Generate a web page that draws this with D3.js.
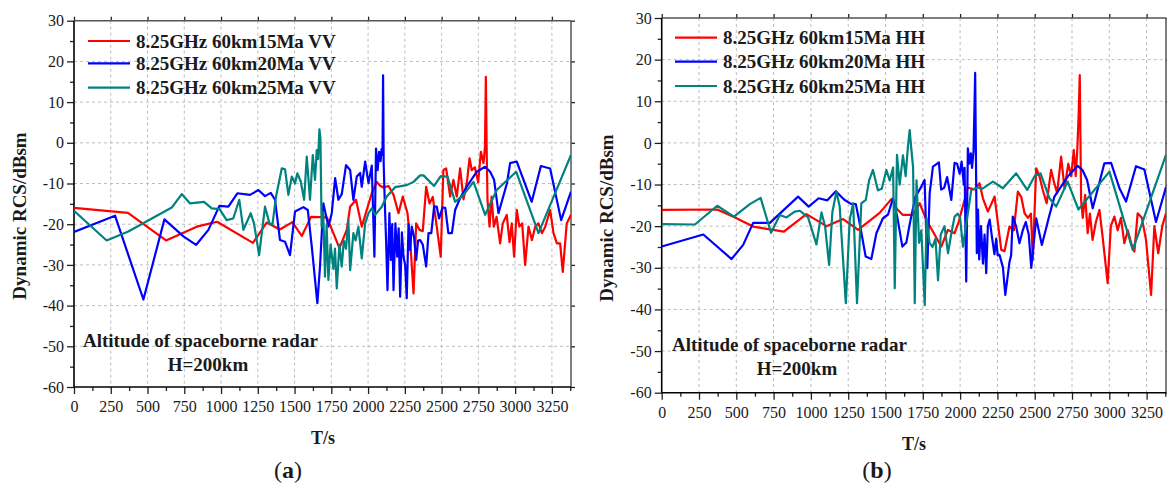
<!DOCTYPE html>
<html>
<head>
<meta charset="utf-8">
<script src="https://cdn.jsdelivr.net/npm/d3@7/dist/d3.min.js"></script>
<style>
body { margin: 0; background: #fff; }
svg text { font-family: "Liberation Serif", "Times New Roman", serif; fill: #1a1a1a; }
</style>
</head>
<body>
<svg id="chart" width="1167" height="489"></svg>
<script>
// ---- data: [T (s), RCS (dBsm)] ----
const vv15 = [[0,-16],[367,-17.2],[626,-24],[835,-20.6],[973,-19.4],[1217,-24.6],[1310,-19.6],[1400,-21.3],[1485,-19.5],[1549,-22.9],[1612,-18.2],[1719,-18.3],[1764,-22.2],[1805,-25.9],[1855,-21.4],[1878,-15.7],[1918,-14],[1957,-20.6],[2025,-12.4],[2059,-9.6],[2080,-10.5],[2104,-11],[2139,-10.6],[2173,-12.8],[2207,-17.3],[2236,-13.2],[2268,-17.3],[2286,-23.9],[2309,-37],[2327,-19.8],[2350,-21.4],[2372,-21.7],[2395,-10.8],[2418,-14.9],[2440,-13.3],[2467,-20.6],[2494,-28],[2512,-6.7],[2531,-6.3],[2558,-13.2],[2580,-9.1],[2603,-13.2],[2626,-6.3],[2649,-13.9],[2672,-9.7],[2690,-3.8],[2705,-6.7],[2726,-6],[2749,-9.7],[2767,-2.2],[2785,-5],[2795,-1],[2801,16.2],[2807,-3],[2812,-14],[2826,-20.6],[2840,-13.2],[2855,-20.6],[2874,-18.2],[2898,-24.7],[2916,-19.8],[2943,-17.7],[2962,-24.4],[2977,-19.8],[2993,-28],[3011,-16.5],[3029,-20.6],[3048,-19.8],[3068,-30],[3091,-20.6],[3114,-23.9],[3137,-20.6],[3159,-19.8],[3182,-22.2],[3205,-20.6],[3238,-16.5],[3261,-22.2],[3284,-24.7],[3306,-24.7],[3324,-31.7],[3351,-19.8],[3380,-17.7]];
const vv20 = [[0,-21.9],[279,-17.9],[472,-38.5],[615,-18.8],[744,-23],[830,-25.1],[914,-21.4],[989,-15.5],[1050,-15.7],[1111,-12.4],[1197,-12.8],[1254,-11.6],[1299,-13.1],[1338,-12.3],[1367,-14],[1401,-23.9],[1435,-24.3],[1469,-27.6],[1503,-16.9],[1560,-15.8],[1590,-16.5],[1617,-25.5],[1655,-39.4],[1673,-30.4],[1696,-14.9],[1730,-20.6],[1753,-17.3],[1776,-8.7],[1798,-14],[1821,-12.6],[1850,-5.5],[1878,-6.7],[1900,-14],[1923,-8.3],[1946,-7.4],[1957,-10.8],[1980,-4.6],[2003,-9.9],[2025,-5.6],[2043,-28],[2054,-1.4],[2065,-6.7],[2075,-2.2],[2085,-4.5],[2092,-1.5],[2098,-3],[2102,16.6],[2106,-5],[2113,-14],[2123,-24.7],[2132,-36.2],[2145,-17.3],[2155,-28.8],[2164,-20],[2173,-36.2],[2186,-19.8],[2198,-28],[2208,-21],[2218,-37.8],[2230,-22],[2241,-28],[2252,-30],[2263,-38.2],[2275,-20],[2286,-26.3],[2297,-20.6],[2312,-23],[2327,-28.8],[2340,-24],[2354,-23.9],[2372,-25],[2395,-30.4],[2411,-22.2],[2430,-22.2],[2449,-15.7],[2467,-15.7],[2483,-18.6],[2506,-15.9],[2525,-16],[2546,-22.2],[2570,-22.2],[2592,-16.5],[2626,-13.6],[2671,-10.8],[2739,-7.1],[2796,-5.9],[2830,-7.1],[2857,-9.1],[2887,-17.3],[2944,-10],[2966,-5],[3011,-4.6],[3113,-14.5],[3175,-5.7],[3238,-6.3],[3313,-19],[3380,-12]];
const vv25 = [[0,-16.7],[222,-24],[369,-21.8],[665,-15.9],[733,-12.6],[789,-14.9],[884,-14.5],[937,-16.1],[990,-16.3],[1038,-19],[1083,-18.6],[1124,-14],[1152,-21.4],[1202,-17.3],[1224,-19.8],[1259,-27.6],[1299,-15.7],[1329,-19.8],[1350,-20],[1374,-13.2],[1413,-6.3],[1435,-6.5],[1458,-12.8],[1481,-8.3],[1503,-10],[1519,-7.5],[1542,-9.5],[1565,-14],[1583,-3.4],[1605,-14],[1624,-3],[1639,-9.1],[1651,-1.8],[1660,-4],[1669,3.3],[1676,1],[1684,-20.6],[1695,-17],[1707,-32.9],[1718,-20],[1730,-33.7],[1745,-25],[1764,-31],[1775,-26],[1787,-35.8],[1805,-25],[1821,-30.4],[1835,-24],[1850,-26],[1866,-19],[1878,-31.3],[1900,-22.2],[1915,-24],[1934,-20.6],[1957,-28.4],[1980,-19.8],[2003,-17.3],[2025,-16.1],[2048,-17.7],[2093,-15.7],[2127,-13.2],[2184,-10.9],[2263,-10.4],[2309,-9.6],[2354,-8],[2377,-8],[2449,-10.6],[2494,-8.2],[2540,-8.3],[2592,-14.5],[2649,-12.8],[2717,-9.6],[2796,-17.7],[2875,-11.6],[3007,-7.1],[3159,-22.2],[3380,-3]];

const hh15 = [[0,-16.1],[372,-16],[491,-17.9],[613,-20.1],[819,-21.3],[970,-17.1],[1104,-20],[1216,-18.3],[1316,-20.9],[1461,-16.8],[1539,-13.5],[1580,-16],[1617,-17.3],[1684,-17.3],[1729,-14.5],[1774,-18.5],[1874,-24.9],[1918,-20.9],[1963,-21.7],[1990,-19],[2052,-10.7],[2097,-11.2],[2130,-9.7],[2153,-13.3],[2186,-16.5],[2231,-12.9],[2276,-25.7],[2298,-26],[2331,-20.1],[2360,-21],[2387,-11.7],[2410,-13],[2432,-16.9],[2455,-18],[2475,-17],[2487,-28.1],[2510,-6.1],[2532,-8],[2554,-11.3],[2580,-14.5],[2610,-6.5],[2630,-9.5],[2650,-12],[2677,-3.3],[2700,-11],[2725,-5],[2745,-8],[2762,-1.7],[2775,-8],[2785,-2],[2794,6.3],[2802,16.3],[2811,-13.7],[2822,-18],[2838,-12.5],[2855,-21.7],[2870,-17],[2888,-23.3],[2910,-19],[2934,-16.1],[2955,-22.5],[2989,-33.7],[3010,-20],[3034,-17.7],[3056,-21],[3078,-18],[3101,-24.1],[3124,-21],[3146,-24],[3168,-26.1],[3190,-16.9],[3218,-18],[3246,-23.3],[3280,-36.5],[3302,-20],[3328,-26.5],[3355,-20],[3380,-16.9]];
const hh20 = [[0,-24.9],[279,-22],[468,-27.9],[546,-24.5],[613,-19.2],[725,-19.2],[914,-12.9],[985,-15.3],[1052,-13.3],[1110,-13.8],[1167,-11.6],[1222,-13.6],[1265,-14.6],[1301,-14.7],[1327,-19.3],[1367,-27.3],[1405,-27.9],[1439,-21.7],[1483,-18.1],[1517,-17.2],[1550,-13.3],[1580,-18],[1613,-24.9],[1640,-23.9],[1665,-19],[1700,-13],[1740,-10.5],[1762,-8.9],[1780,-30.1],[1796,-12.1],[1818,-5.7],[1858,-4.7],[1873,-11.2],[1893,-10.8],[1913,-8.2],[1941,-13.7],[1963,-4.8],[1980,-5],[1997,-7.4],[2010,-4.5],[2025,-10],[2030,-6],[2041,-33.3],[2052,-1.3],[2062,-5],[2072,-2.5],[2080,-6],[2090,-2],[2101,16.8],[2106,-3],[2112,-26.5],[2120,-16],[2128,-28],[2140,-20],[2153,-29],[2164,-22],[2175,-31.3],[2186,-20],[2198,-18.4],[2215,-23],[2230,-26.7],[2242,-23],[2252,-27],[2264,-26.9],[2287,-29.9],[2303,-36.5],[2331,-28.6],[2342,-27],[2353,-17.7],[2375,-20],[2398,-24.1],[2420,-21],[2440,-19],[2460,-22],[2477,-30],[2510,-18.1],[2548,-24.5],[2599,-17.3],[2632,-12.9],[2721,-8.1],[2788,-5.5],[2820,-6.5],[2851,-8.9],[2889,-15.7],[2967,-4.9],[3012,-4.8],[3068,-10.9],[3112,-14.1],[3179,-5.6],[3235,-6.4],[3313,-19],[3380,-10.6]];
const hh25 = [[0,-19.5],[223,-19.6],[372,-15.1],[484,-17.7],[591,-14.7],[663,-13.2],[733,-21.6],[792,-17.3],[836,-17.9],[892,-16.5],[926,-16.3],[981,-17.9],[1037,-24.4],[1071,-16.7],[1095,-20],[1122,-29.3],[1144,-16.6],[1171,-11.7],[1193,-15.3],[1234,-38.5],[1260,-18.5],[1283,-14.5],[1309,-38.5],[1338,-14.5],[1368,-13.7],[1390,-9],[1416,-6.5],[1449,-11.4],[1475,-11],[1506,-6.5],[1528,-9],[1551,-5.9],[1562,-34.9],[1577,-2.9],[1595,-10],[1617,-3],[1635,-8],[1650,-1],[1662,3.1],[1672,-1],[1685,-6],[1696,-38.5],[1708,-9],[1725,-24],[1740,-21],[1763,-39],[1775,-18],[1795,-24],[1815,-25],[1835,-23],[1852,-33],[1870,-22],[1895,-20],[1919,-26.5],[1940,-22],[1963,-17.7],[1985,-17],[2000,-18],[2019,-24.9],[2075,-11.3],[2119,-10.7],[2150,-11],[2220,-9.3],[2287,-10.9],[2376,-7.3],[2450,-11.3],[2499,-8],[2539,-7.3],[2599,-13.3],[2644,-15.3],[2721,-9.3],[2793,-16],[3001,-6.9],[3157,-25.7],[3380,-2.9]];

const xTicks = [0,250,500,750,1000,1250,1500,1750,2000,2250,2500,2750,3000,3250];
const yTicks = [-60,-50,-40,-30,-20,-10,0,10,20,30];
const seriesColors = ["#ff0000", "#0000ff", "#00827f"];

const svg = d3.select("#chart");
const plain = d => String(d);   // hyphen minus, no thousands separator

function drawPanel(p) {
    const x = d3.scaleLinear().domain([0, 3380]).range([p.left, p.right]);
    const y = d3.scaleLinear().domain([-60, 30]).range([p.bottom, p.top]);
    const g = svg.append("g");

    // dashed grid
    g.selectAll("line.gx").data(xTicks.slice(1)).enter().append("line")
        .attr("x1", d => x(d)).attr("x2", d => x(d))
        .attr("y1", p.top).attr("y2", p.bottom)
        .attr("stroke", "#bdbdbd").attr("stroke-dasharray", "3,3").attr("stroke-width", 1);
    g.selectAll("line.gy").data(yTicks.slice(1, -1)).enter().append("line")
        .attr("y1", d => y(d)).attr("y2", d => y(d))
        .attr("x1", p.left).attr("x2", p.right)
        .attr("stroke", "#bdbdbd").attr("stroke-dasharray", "3,3").attr("stroke-width", 1);

    const xMinor = d3.range(125, 3380, 250);
    const yMinor = d3.range(-55, 30, 10);

    // bottom / left axes
    g.append("g").attr("transform", `translate(0,${p.bottom})`)
        .call(d3.axisBottom(x).tickValues(xTicks).tickFormat(plain).tickSize(7).tickPadding(7));
    g.append("g").attr("transform", `translate(0,${p.bottom})`)
        .call(d3.axisBottom(x).tickValues(xMinor).tickSize(4).tickFormat(""));
    g.append("g").attr("transform", `translate(${p.left},0)`)
        .call(d3.axisLeft(y).tickValues(yTicks).tickFormat(plain).tickSize(7).tickPadding(3));
    g.append("g").attr("transform", `translate(${p.left},0)`)
        .call(d3.axisLeft(y).tickValues(yMinor).tickSize(4).tickFormat(""));
    // top / right axes, ticks only
    g.append("g").attr("transform", `translate(0,${p.top})`)
        .call(d3.axisTop(x).tickValues(xTicks).tickSize(4).tickFormat(""));
    g.append("g").attr("transform", `translate(${p.right},0)`)
        .call(d3.axisRight(y).tickValues(yTicks).tickSize(4).tickFormat(""));

    g.selectAll(".domain").remove();
    g.selectAll(".tick line").attr("stroke", "#222").attr("stroke-width", 1.3);
    g.selectAll(".tick text").style("font-size", "16px").style("font-family", "'Liberation Serif', serif").attr("fill", "#1a1a1a");

    // frame
    g.append("line").attr("x1", p.left).attr("x2", p.right).attr("y1", p.top).attr("y2", p.top)
        .attr("stroke", "#555").attr("stroke-width", 1.5);
    g.append("line").attr("x1", p.right).attr("x2", p.right).attr("y1", p.top).attr("y2", p.bottom)
        .attr("stroke", "#555").attr("stroke-width", 1.5);
    g.append("line").attr("x1", p.left).attr("x2", p.right).attr("y1", p.bottom).attr("y2", p.bottom)
        .attr("stroke", "#000").attr("stroke-width", 1.6);
    g.append("line").attr("x1", p.left).attr("x2", p.left).attr("y1", p.top).attr("y2", p.bottom)
        .attr("stroke", "#000").attr("stroke-width", 1.6);

    // series
    const clipId = "clip" + p.tag;
    svg.append("clipPath").attr("id", clipId).append("rect")
        .attr("x", p.left).attr("y", p.top).attr("width", p.right - p.left).attr("height", p.bottom - p.top);
    const line = d3.line().x(d => x(d[0])).y(d => y(d[1]));
    const lines = g.append("g").attr("clip-path", `url(#${clipId})`);
    p.series.forEach((s, i) => {
        lines.append("path").datum(s)
            .attr("d", line)
            .attr("fill", "none")
            .attr("stroke", seriesColors[i])
            .attr("stroke-width", 2.2)
            .attr("stroke-linejoin", "round");
    });

    // legend
    p.names.forEach((n, i) => {
        const ly = p.legendY[i];
        g.append("line").attr("x1", p.legendX).attr("x2", p.legendX + 42)
            .attr("y1", ly).attr("y2", ly)
            .attr("stroke", seriesColors[i]).attr("stroke-width", 2.2);
        g.append("text").attr("x", p.legendX + 48).attr("y", ly + 6.5)
            .style("font-size", "19px").style("font-weight", "bold").text(n);
    });

    // annotation
    g.append("text").attr("x", p.noteX).attr("y", p.noteY)
        .style("font-size", "19px").style("font-weight", "bold")
        .text("Altitude of spaceborne radar");
    g.append("text").attr("x", p.noteX + 125).attr("y", p.noteY + 24)
        .attr("text-anchor", "middle")
        .style("font-size", "19px").style("font-weight", "bold")
        .text("H=200km");

    // axis titles
    g.append("text")
        .attr("transform", `translate(${p.yTitleX},${p.yTitleY}) rotate(-90)`)
        .attr("text-anchor", "middle")
        .style("font-size", "19px").style("font-weight", "bold")
        .text("Dynamic RCS/dBsm");
    g.append("text").attr("x", p.xTitleX).attr("y", p.xTitleY)
        .attr("text-anchor", "middle")
        .style("font-size", "18px").style("font-weight", "bold")
        .text("T/s");

    // panel tag
    const tg = g.append("text").attr("x", p.tagX).attr("y", 478)
        .attr("text-anchor", "middle").style("font-size", "24px");
    tg.append("tspan").text("(");
    tg.append("tspan").style("font-weight", "bold").text(p.tag);
    tg.append("tspan").text(")");
}

drawPanel({
    tag: "a", left: 74, top: 20.7, right: 571, bottom: 387,
    series: [vv15, vv20, vv25],
    names: ["8.25GHz 60km15Ma VV", "8.25GHz 60km20Ma VV", "8.25GHz 60km25Ma VV"],
    legendX: 88, legendY: [41, 63.3, 87.7],
    noteX: 83, noteY: 347,
    yTitleX: 26, yTitleY: 216,
    xTitleX: 323, xTitleY: 444,
    tagX: 288
});
drawPanel({
    tag: "b", left: 661.7, top: 18, right: 1166, bottom: 392.7,
    series: [hh15, hh20, hh25],
    names: ["8.25GHz 60km15Ma HH", "8.25GHz 60km20Ma HH", "8.25GHz 60km25Ma HH"],
    legendX: 675, legendY: [37.7, 61.7, 86],
    noteX: 672, noteY: 351,
    yTitleX: 612.7, yTitleY: 218,
    xTitleX: 914, xTitleY: 450,
    tagX: 877
});
</script>
</body>
</html>
